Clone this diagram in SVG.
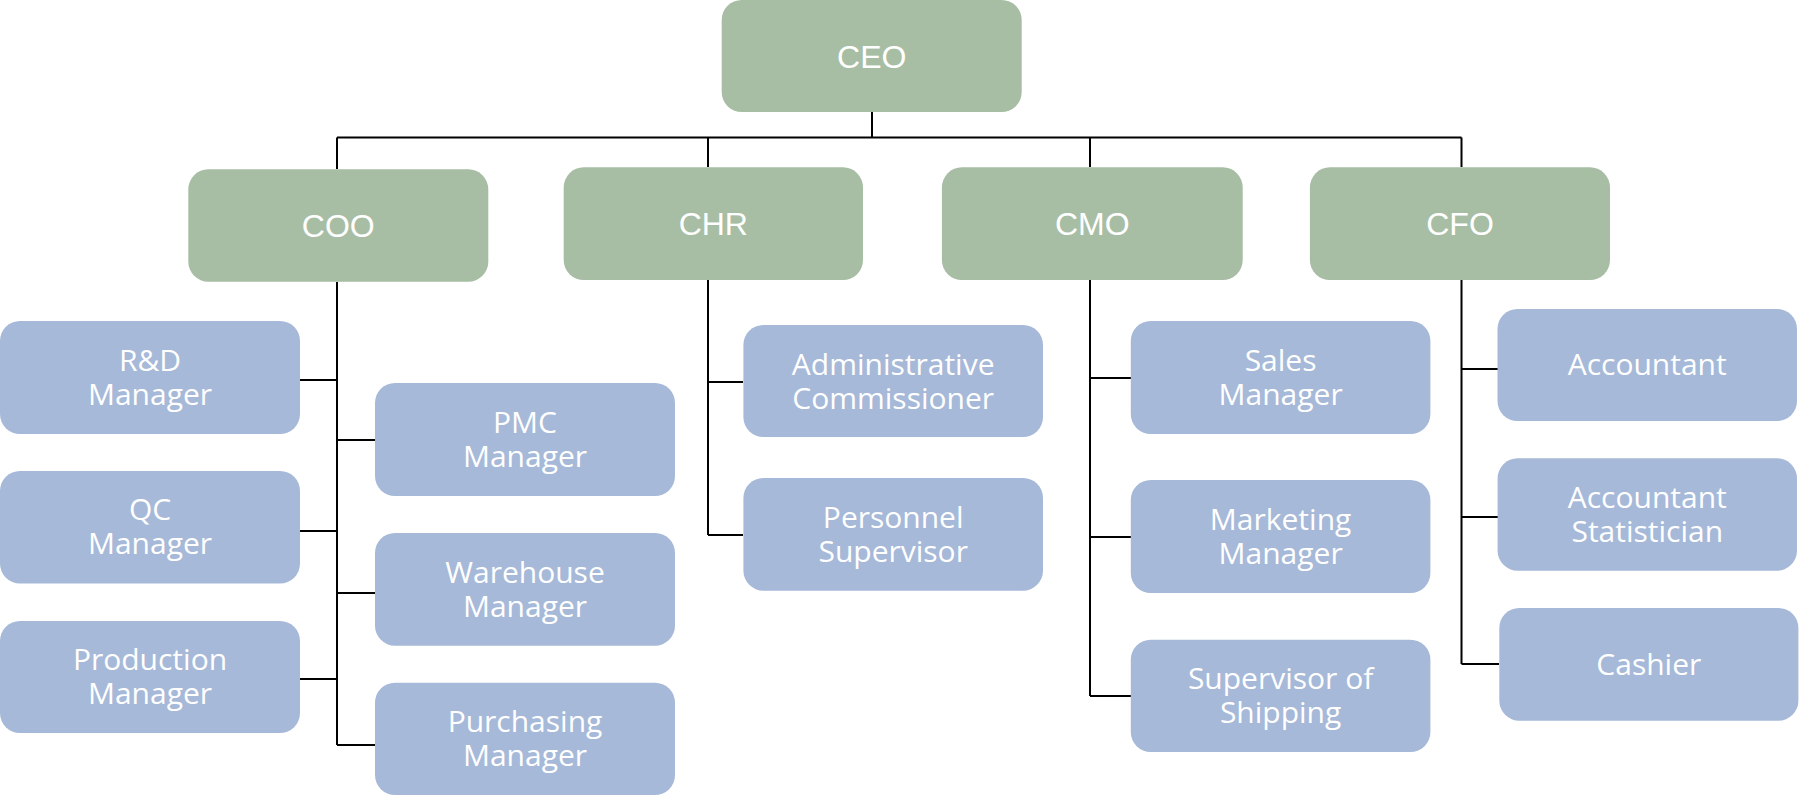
<svg xmlns="http://www.w3.org/2000/svg" width="1800" height="796" viewBox="0 0 1800 796">
<style>
.g{fill:#A7BEA5}
.b{fill:#A6B9D8}
.tg{font-family:"Liberation Sans",Arial,sans-serif;font-size:32px;fill:#fff;text-anchor:middle}
.tb{font-family:"Open Sans","Noto Sans",sans-serif;font-size:30px;fill:#fff;text-anchor:middle}
.c{stroke:#000;stroke-width:2;fill:none}
</style>
<rect width="1800" height="796" fill="#fff"/>
<g id="connectors" class="c">
<path d="M872 112V137.5M337 137.5H1461.5M337 137.5V169M708 137.5V167M1090 137.5V167M1461.5 137.5V167"/>
<path d="M337 282V745M300 380H337M300 531H337M300 679H337M337 440H375M337 593H375M337 745H375"/>
<path d="M708 280V535M708 382H743M708 535H743"/>
<path d="M1090 280V696M1090 378H1131M1090 537H1131M1090 696H1131"/>
<path d="M1461.5 280V664M1461.5 369H1498M1461.5 517H1498M1461.5 664H1499"/>
</g>
<g id="ceo"><rect class="g" x="721.7" y="0" width="300" height="112" rx="20"/><text class="tg" x="871.7" y="67.5">CEO</text></g>
<g id="coo"><rect class="g" x="188.3" y="169.3" width="300" height="112.4" rx="20"/><text class="tg" x="338.3" y="237">COO</text></g>
<g id="chr"><rect class="g" x="563.7" y="167.3" width="299.3" height="112.7" rx="20"/><text class="tg" x="713.3" y="235">CHR</text></g>
<g id="cmo"><rect class="g" x="941.9" y="167.3" width="300.8" height="112.7" rx="20"/><text class="tg" x="1092.3" y="235">CMO</text></g>
<g id="cfo"><rect class="g" x="1309.9" y="167.3" width="300.1" height="112.7" rx="20"/><text class="tg" x="1460" y="235">CFO</text></g>

<g id="rd"><rect class="b" x="0" y="321" width="300" height="113" rx="20"/><text class="tb" x="150" y="371">R&amp;D</text><text class="tb" x="150" y="405.3">Manager</text></g>
<g id="qc"><rect class="b" x="0" y="471" width="300" height="112.5" rx="20"/><text class="tb" x="150" y="520">QC</text><text class="tb" x="150" y="554.3">Manager</text></g>
<g id="production"><rect class="b" x="0" y="621" width="300" height="112" rx="20"/><text class="tb" x="150" y="670">Production</text><text class="tb" x="150" y="704.3">Manager</text></g>
<g id="pmc"><rect class="b" x="375" y="383" width="300" height="113" rx="20"/><text class="tb" x="525" y="432.5">PMC</text><text class="tb" x="525" y="466.8">Manager</text></g>
<g id="warehouse"><rect class="b" x="375" y="533" width="300" height="112.7" rx="20"/><text class="tb" x="525" y="582.5">Warehouse</text><text class="tb" x="525" y="616.8">Manager</text></g>
<g id="purchasing"><rect class="b" x="375" y="682.7" width="300" height="112.3" rx="20"/><text class="tb" x="525" y="732">Purchasing</text><text class="tb" x="525" y="766.3">Manager</text></g>

<g id="admin"><rect class="b" x="743.4" y="325" width="299.6" height="112" rx="20"/><text class="tb" x="893.2" y="374.5">Administrative</text><text class="tb" x="893.2" y="408.8">Commissioner</text></g>
<g id="personnel"><rect class="b" x="743.4" y="478" width="299.6" height="112.7" rx="20"/><text class="tb" x="893.2" y="527.5">Personnel</text><text class="tb" x="893.2" y="561.8">Supervisor</text></g>

<g id="sales"><rect class="b" x="1130.8" y="321" width="299.6" height="113" rx="20"/><text class="tb" x="1280.6" y="371">Sales</text><text class="tb" x="1280.6" y="405.3">Manager</text></g>
<g id="marketing"><rect class="b" x="1130.8" y="480" width="299.6" height="113" rx="20"/><text class="tb" x="1280.6" y="530">Marketing</text><text class="tb" x="1280.6" y="564.3">Manager</text></g>
<g id="shipping"><rect class="b" x="1130.8" y="639.7" width="299.6" height="112.3" rx="20"/><text class="tb" x="1280.6" y="689">Supervisor of</text><text class="tb" x="1280.6" y="723.3">Shipping</text></g>

<g id="accountant"><rect class="b" x="1497.5" y="309" width="299.5" height="112" rx="20"/><text class="tb" x="1647.2" y="374.5">Accountant</text></g>
<g id="statistician"><rect class="b" x="1497.6" y="458.3" width="299.4" height="112.4" rx="20"/><text class="tb" x="1647.3" y="508">Accountant</text><text class="tb" x="1647.3" y="542.3">Statistician</text></g>
<g id="cashier"><rect class="b" x="1499.3" y="608" width="299.1" height="112.7" rx="20"/><text class="tb" x="1648.8" y="675">Cashier</text></g>
</svg>
